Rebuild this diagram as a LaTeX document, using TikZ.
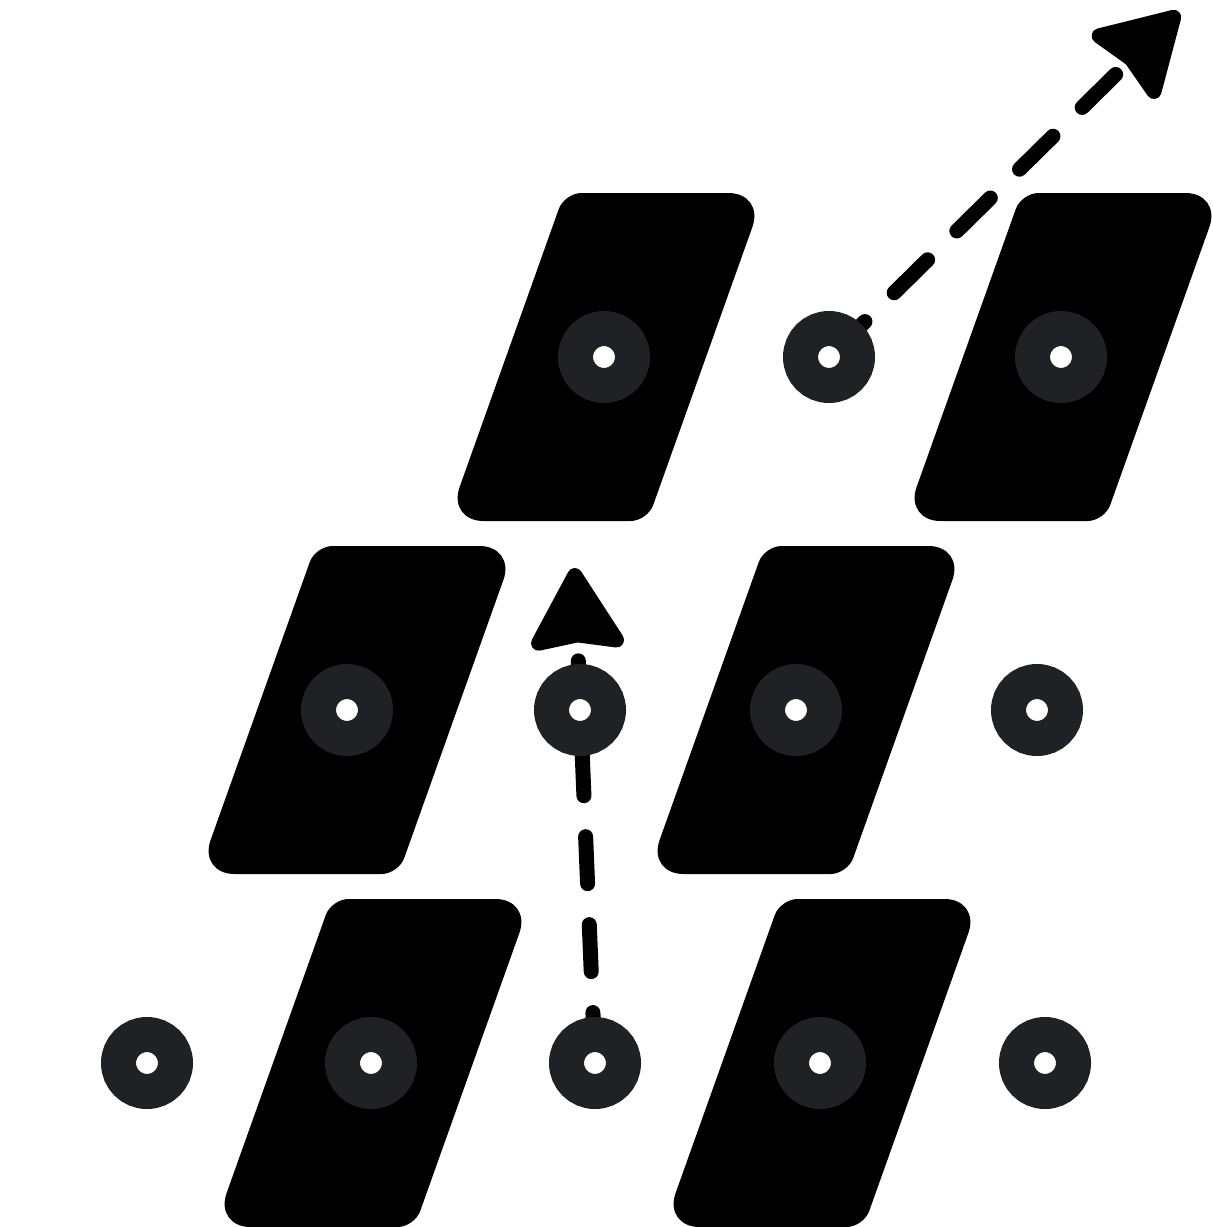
\documentclass[tikz,border=0pt]{standalone}
\usetikzlibrary{arrows.meta,backgrounds}
\definecolor{ringgrey}{HTML}{202124}
\tikzset{
  ring/.style={circle, draw=ringgrey, fill=white, line width=17.5pt, minimum size=28.5pt, inner sep=0pt},
  hop/.style={line width=7.5pt, line cap=round, dash pattern=on 23.5pt off 20.5pt, dash phase=42.25pt,
    -{Stealth[length=45pt, width=52pt, inset=4pt, round]}}
}
\begin{document}
\begin{tikzpicture}[x=0.5pt, y=-0.5pt]
    \useasboundingbox (0,0) rectangle (1212,1227);

    % slanted slabs
    \foreach \cx/\cy in {606/357, 1063/357, 357/710, 806/710, 373/1063, 822/1063}
        \fill (\cx+58.5,\cy-164) [rounded corners=18pt] -- (\cx+158.5,\cy-164)
            [rounded corners=8.5pt] -- (\cx+41.5,\cy+164)
            [rounded corners=18pt] -- (\cx-158.5,\cy+164)
            [rounded corners=8.5pt] -- (\cx-41.5,\cy-164) -- cycle;

    % rings on the slabs
    \node[ring] (sa) at (604,357) {};
    \node[ring] (sb) at (1061,357) {};
    \node[ring] (sc) at (347,710) {};
    \node[ring] (sd) at (796,710) {};
    \node[ring] (se) at (371,1063) {};
    \node[ring] (sf) at (820,1063) {};

    % free rings
    \node[ring] (jump) at (829,357) {};
    \node[ring] (mid) at (580,710) {};
    \node[ring] (right) at (1037,710) {};
    \node[ring] (left) at (147,1063) {};
    \node[ring] (up) at (595,1063) {};
    \node[ring] (corner) at (1045,1063) {};

    \coordinate (upend) at (574.5,568);
    \coordinate (jumpend) at (1179,12);

    \begin{scope}[on background layer]
        \draw[hop] (up.center) -- (upend);
        \draw[hop] (jump.center) -- (jumpend);
    \end{scope}
\end{tikzpicture}
\end{document}
